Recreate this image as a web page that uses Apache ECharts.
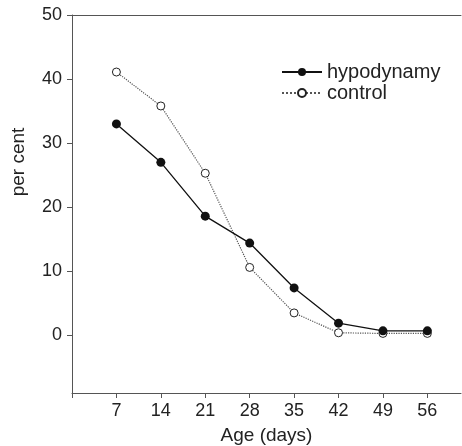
<!DOCTYPE html>
<html>
<head>
<meta charset="utf-8">
<script src="https://cdn.jsdelivr.net/npm/echarts@6/dist/echarts.min.js"></script>
<style>
  html, body { margin: 0; padding: 0; background: #fff; }
  #chart { width: 462px; height: 446px; }
</style>
</head>
<body>
<div id="chart"></div>
<script>
// ages in days and percentages
const ages = [7, 14, 21, 28, 35, 42, 49, 56];
const hypodynamy = [33.0, 27.0, 18.6, 14.4, 7.4, 1.9, 0.7, 0.7];
const control = [41.1, 35.8, 25.3, 10.6, 3.5, 0.4, 0.3, 0.3];
const yTicks = [0, 10, 20, 30, 40, 50];

const font = 'Liberation Sans, Arial, sans-serif';
const axisColor = '#555';

const myChart = echarts.init(document.getElementById('chart'));
myChart.setOption({
  backgroundColor: '#fff',
  animation: false,
  textStyle: { fontFamily: font },
  grid: { left: 72, top: 15, right: 1, bottom: 53, outerBoundsMode: 'none', containLabel: false },
  legend: {
    orient: 'vertical',
    left: 276,
    top: 57,
    itemWidth: 40,
    itemHeight: 10,
    itemGap: 1,
    textStyle: { fontSize: 20, color: '#222' },
    data: ['hypodynamy', 'control'],
  },
  xAxis: [{
    type: 'value',
    min: 0,
    max: 61.3,
    name: 'Age (days)',
    nameLocation: 'middle',
    nameGap: 33,
    nameTextStyle: { fontSize: 19, color: '#222' },
    splitLine: { show: false },
    axisLine: { show: true, onZero: false, lineStyle: { color: axisColor, width: 1 } },
    axisTick: { show: true, length: 5, customValues: [0].concat(ages), lineStyle: { color: axisColor } },
    axisLabel: { customValues: ages, fontSize: 18, color: '#222', margin: 9 },
  }, {
    type: 'value',
    position: 'top',
    min: 0,
    max: 61.3,
    splitLine: { show: false },
    axisLine: { show: true, onZero: false, lineStyle: { color: axisColor, width: 1 } },
    axisTick: { show: false },
    axisLabel: { show: false },
  }],
  yAxis: {
    type: 'value',
    min: -9,
    max: 50,
    splitLine: { show: false },
    axisLine: { show: true, onZero: false, lineStyle: { color: axisColor, width: 1 } },
    axisTick: { show: true, length: 5, customValues: yTicks, lineStyle: { color: axisColor } },
    axisLabel: { customValues: yTicks, fontSize: 18, color: '#222', margin: 10 },
  },
  graphic: [{
    type: 'text',
    x: 19,
    y: 162,
    rotation: Math.PI / 2,
    style: {
      text: 'per cent',
      font: '19px ' + font,
      fill: '#222',
      align: 'center',
      verticalAlign: 'middle',
    },
  }],
  series: [{
    name: 'hypodynamy',
    type: 'line',
    data: ages.map((a, i) => [a, hypodynamy[i]]),
    symbol: 'circle',
    symbolSize: 9,
    lineStyle: { color: '#111', width: 1.3 },
    itemStyle: { color: '#111', borderColor: '#111', borderWidth: 0 },
    z: 3,
  }, {
    name: 'control',
    type: 'line',
    data: ages.map((a, i) => [a, control[i]]),
    symbol: 'circle',
    symbolSize: 8,
    lineStyle: { color: '#555', width: 1.2, type: 'dotted' },
    itemStyle: { color: '#fff', borderColor: '#222', borderWidth: 1 },
    z: 2,
  }],
});
</script>
</body>
</html>
